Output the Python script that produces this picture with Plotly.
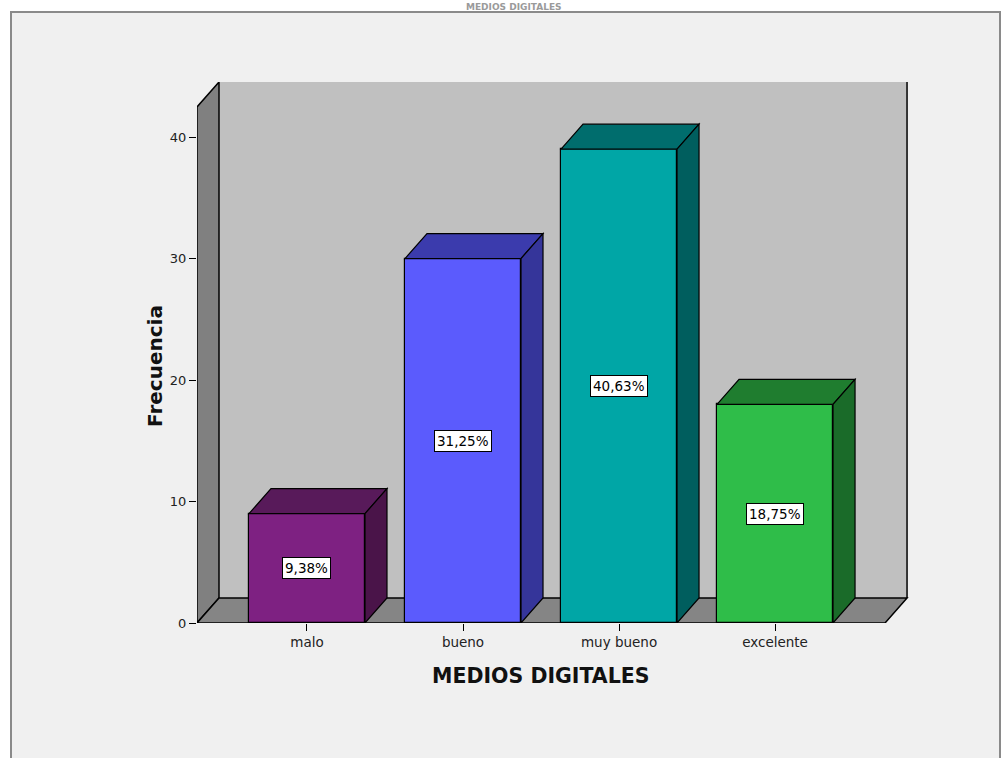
import plotly.graph_objects as go

# ---------------- data ----------------
categories = ["malo", "bueno", "muy bueno", "excelente"]
frequencies = [9, 30, 39, 18]
percent_labels = ["9,38%", "31,25%", "40,63%", "18,75%"]
y_ticks = [0, 10, 20, 30, 40]

front_colors = ["#7e2182", "#5b5bfd", "#00a6a6", "#2fbd49"]
top_colors = ["#581a5a", "#3b3bad", "#006d6d", "#1f7d2f"]
side_colors = ["#4a1449", "#35359a", "#005e5e", "#1a6b29"]

# ---------------- geometry ----------------
W, H = 1006, 758
L, R, T, B = 197, 96, 82, 135
plot_w = W - L - R
plot_h = H - T - B

x_min, x_max = -0.705, 3.865
y_min, y_max = 0, 44.53
px_x = plot_w / (x_max - x_min)
px_y = plot_h / (y_max - y_min)

DX = 22 / px_x      # depth offset in data units
DY = 25 / px_y
bar_w = 116 / px_x
floor_left = x_min
floor_right = 3.705

xs = list(range(len(categories)))

def ppx(px):  # pixel x -> paper x
    return (px - L) / plot_w

def ppy(py):  # pixel y -> paper y
    return (H - B - py) / plot_h

def poly(pts):
    return "M " + " L ".join(f"{a},{b}" for a, b in pts) + " Z"

shapes = []
# outer panel
shapes.append(dict(type="rect", xref="paper", yref="paper",
                   x0=ppx(11), x1=ppx(1000), y0=ppy(790), y1=ppy(12),
                   fillcolor="#f0f0f0", line=dict(color="#8a8a8a", width=2),
                   layer="below"))
# back wall
shapes.append(dict(type="path", xref="x", yref="y", layer="below",
                   path=poly([(floor_left + DX, DY), (floor_right + DX, DY),
                              (floor_right + DX, y_max), (floor_left + DX, y_max)]),
                   fillcolor="#c0c0c0", line=dict(width=0)))
shapes.append(dict(type="line", xref="x", yref="y", layer="below",
                   x0=floor_right + DX, x1=floor_right + DX, y0=DY, y1=y_max,
                   line=dict(color="black", width=1.5)))
# left wall
shapes.append(dict(type="path", xref="x", yref="y", layer="below",
                   path=poly([(floor_left, 0), (floor_left + DX, DY),
                              (floor_left + DX, y_max), (floor_left, y_max - DY)]),
                   fillcolor="#808080", line=dict(color="black", width=1.5)))
# floor
shapes.append(dict(type="path", xref="x", yref="y", layer="below",
                   path=poly([(floor_left, 0), (floor_right, 0),
                              (floor_right + DX, DY), (floor_left + DX, DY)]),
                   fillcolor="#858585", line=dict(color="black", width=1.5)))

# bar top and side faces
for x, v, tc, sc in zip(xs, frequencies, top_colors, side_colors):
    xl, xr = x - bar_w / 2, x + bar_w / 2
    shapes.append(dict(type="path", xref="x", yref="y", layer="above",
                       path=poly([(xl, v), (xr, v), (xr + DX, v + DY), (xl + DX, v + DY)]),
                       fillcolor=tc, line=dict(color="black", width=1.2)))
    shapes.append(dict(type="path", xref="x", yref="y", layer="above",
                       path=poly([(xr, 0), (xr + DX, DY), (xr + DX, v + DY), (xr, v)]),
                       fillcolor=sc, line=dict(color="black", width=1.2)))

fig = go.Figure()
fig.add_trace(go.Bar(
    x=xs, y=frequencies, width=bar_w,
    marker=dict(color=front_colors, line=dict(color="black", width=1.2)),
    hoverinfo="skip", showlegend=False,
))

annotations = []
for x, v, lab in zip(xs, frequencies, percent_labels):
    annotations.append(dict(
        x=x, y=v / 2, xref="x", yref="y", text=lab, showarrow=False,
        font=dict(family="DejaVu Sans", size=13.5, color="black"),
        bgcolor="white", bordercolor="black", borderwidth=1, borderpad=2,
    ))

# axis titles
annotations.append(dict(
    x=ppx(141), y=ppy(366), xref="paper", yref="paper", text="<b>Frecuencia</b>",
    textangle=-90, showarrow=False,
    font=dict(family="DejaVu Sans", size=20, color="#111111"),
))
annotations.append(dict(
    x=1.5, y=ppy(690), xref="x", yref="paper", text="<b>MEDIOS DIGITALES</b>",
    showarrow=False, font=dict(family="DejaVu Sans", size=20.5, color="#111111"),
))
# chart title squeezed into the white strip at the very top
annotations.append(dict(
    x=ppx(514), y=ppy(0), xref="paper", yref="paper", text="<b>MEDIOS DIGITALES</b>",
    showarrow=False, yanchor="top",
    font=dict(family="DejaVu Sans", size=9, color="#9a9a9a"),
))

fig.update_layout(
    width=W, height=H,
    margin=dict(l=L, r=R, t=T, b=B, pad=0),
    paper_bgcolor="white", plot_bgcolor="#f0f0f0",
    shapes=shapes, annotations=annotations,
    bargap=0,
    xaxis=dict(range=[x_min, x_max], tickvals=xs, ticktext=categories,
               showgrid=False, zeroline=False, showline=False,
               ticks="outside", ticklen=7, tickcolor="black", tickwidth=1,
               tickfont=dict(family="DejaVu Sans", size=13.5, color="#222222")),
    yaxis=dict(range=[y_min, y_max], tickvals=y_ticks,
               showgrid=False, zeroline=False, showline=False,
               ticks="outside", ticklen=7, tickcolor="black", tickwidth=1,
               tickfont=dict(family="DejaVu Sans", size=13, color="#222222")),
)

fig.write_html("out.html")
